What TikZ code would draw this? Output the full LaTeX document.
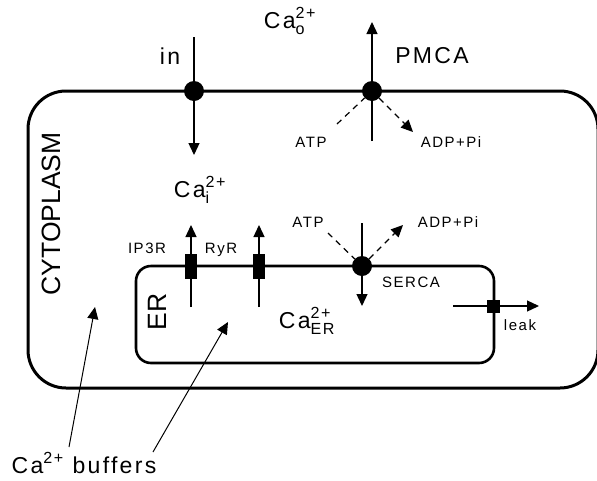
\documentclass[tikz,border=0pt]{standalone}
\usepackage{amsmath}
\usepackage{fontspec}
\setmainfont[LetterSpace=10]{Liberation Sans}
\newfontfamily\sidefont{Liberation Sans}
\usetikzlibrary{arrows.meta}

\newcommand{\caion}[1]{Ca$^{\text{2+}}_{\text{#1}}$}

\begin{document}
\begin{tikzpicture}[x=1pt,y=-1pt,
    >={Triangle[length=12pt,width=11pt]},
    memb/.style={line width=3pt},
    ermemb/.style={line width=2.6pt},
    flux/.style={line width=1.3pt},
    atpline/.style={line width=1.2pt,dash pattern=on 6pt off 5pt},
    pump/.style={circle,fill,inner sep=0pt,minimum size=20pt},
    chan/.style={rectangle,fill,inner sep=0pt,minimum width=12pt,minimum height=25pt},
    big/.style={font=\fontsize{23}{25}\selectfont,anchor=base},
    small/.style={font=\fontsize{15}{17}\selectfont,anchor=base},
    side/.style={font=\sidefont\fontsize{26.5}{28}\selectfont,rotate=90}]

\useasboundingbox (0,0) rectangle (597,480);

% cell and ER
\draw[memb,rounded corners=38pt] (28,91) rectangle (598,388);
\draw[ermemb,rounded corners=15pt] (136,266) rectangle (494,363);

\node[side] (cyto) at (51,214) {CYTOPLASM};
\node[side] (er) at (157,312) {ER};

% plasma membrane pumps
\node[pump] (inpump) at (194,91) {};
\node[pump] (pmca) at (372,91) {};
\coordinate (in-top) at (194,37);
\coordinate (in-bot) at (194,155);
\coordinate (pmca-bot) at (372,141);
\coordinate (pmca-top) at (372,22);
\draw[flux,->] (in-top) -- (in-bot);
\draw[flux,->] (pmca-bot) -- (pmca-top);

\node[big] (inlbl) at (170,64) {in};
\node[big] (pmcalbl) at (432,63) {PMCA};
\node[big] (cao) at (290,28) {\caion{o}};
\node[big] (cai) at (200,197) {\caion{i}};

\node[small] (atp1) at (311,147) {ATP};
\node[small] (adp1) at (451,147) {ADP+Pi};
\coordinate (atp1-end) at (337,124);
\coordinate (adp1-end) at (413,132);
\draw[atpline] (atp1-end) -- (pmca);
\draw[atpline,->] (pmca) -- (adp1-end);

% ER channels and SERCA
\node[chan] (ip3r) at (191,266) {};
\node[chan] (ryr) at (259,266) {};
\coordinate (ip3r-bot) at (191,307);
\coordinate (ip3r-top) at (191,225);
\coordinate (ryr-bot) at (259,307);
\coordinate (ryr-top) at (259,225);
\draw[flux,->] (ip3r-bot) -- (ip3r-top);
\draw[flux,->] (ryr-bot) -- (ryr-top);
\node[small] (ip3rlbl) at (147,253) {IP3R};
\node[small] (ryrlbl) at (221,253) {RyR};

\node[pump] (serca) at (362,266) {};
\coordinate (serca-top) at (362,223);
\coordinate (serca-bot) at (362,306);
\draw[flux,->] (serca-top) -- (serca-bot);
\node[small] (sercalbl) at (411,287) {SERCA};
\node[small] (atp2) at (308,227) {ATP};
\node[small] (adp2) at (448,227) {ADP+Pi};
\coordinate (atp2-end) at (328,233);
\coordinate (adp2-end) at (403,225);
\draw[atpline] (atp2-end) -- (serca);
\draw[atpline,->] (serca) -- (adp2-end);

\node[big] (caer) at (307,328) {\caion{ER}};

% leak
\node[chan,minimum width=13pt,minimum height=13pt] (leakch) at (493,306) {};
\coordinate (leak-in) at (453,306);
\coordinate (leak-out) at (539,306);
\draw[flux,->] (leak-in) -- (leak-out);
\node[small] (leaklbl) at (520,330) {leak};

% buffers
\node[big] (buf) at (84,473) {Ca$^{\text{2+}}$ buffers};
\coordinate (buf-a) at (69,447);
\coordinate (buf-b) at (153,452);
\coordinate (buf-cyto) at (95,307);
\coordinate (buf-er) at (228,322);
\draw[line width=1pt,->] (buf-a) -- (buf-cyto);
\draw[line width=1pt,->] (buf-b) -- (buf-er);
\end{tikzpicture}
\end{document}
